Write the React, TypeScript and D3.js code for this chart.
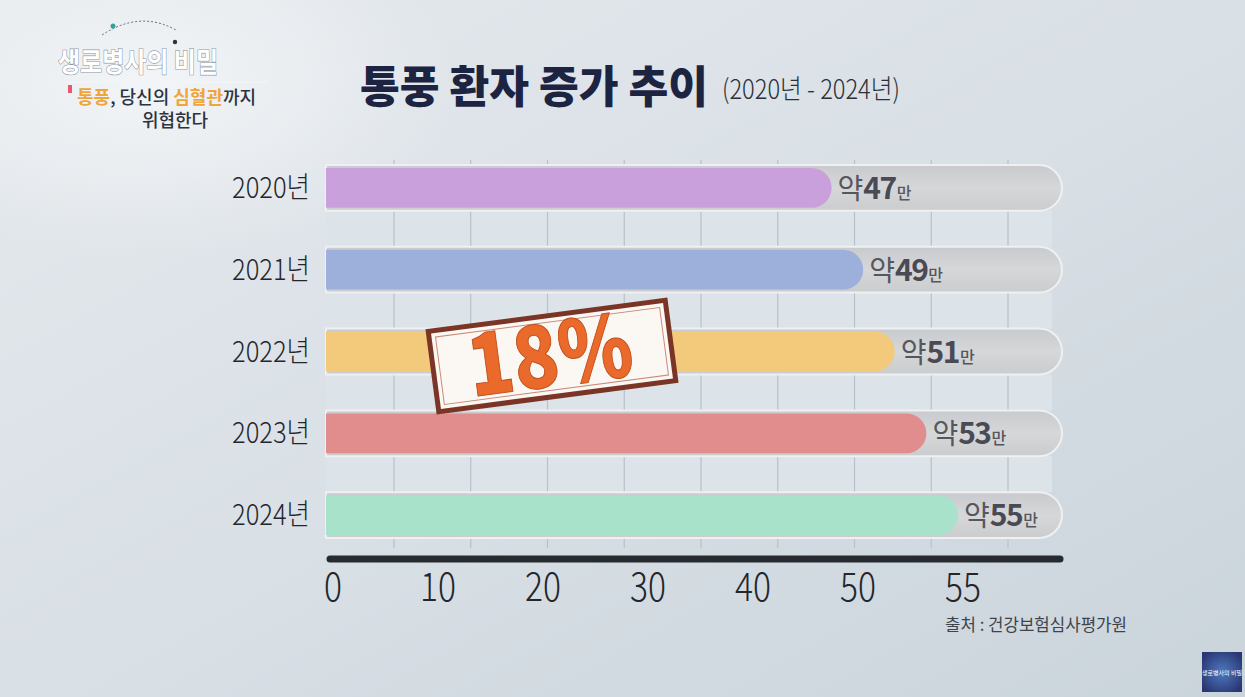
import React from "react";
import * as d3 from "d3";

const years = ["2020년", "2021년", "2022년", "2023년", "2024년"];
const patients = [47, 49, 51, 53, 55];
const barColors = ["#caa0dc", "#9db0dc", "#f3c97c", "#e18d8e", "#a8e2ca"];
const axisLabels = ["0", "10", "20", "30", "40", "50", "55"];
const titleText = "통풍 환자 증가 추이";
const subtitleText = "(2020년 - 2024년)";
const sourceText = "출처 : 건강보험심사평가원";
const stampText = "18%";

const W = 1245;
const H = 697;
const KR = "'Noto Sans CJK KR', 'Noto Sans', sans-serif";
const THIN = "'Noto Sans CJK KR', 'Noto Sans', sans-serif";

export default function App() {
  const x0 = 326;
  const trackEnd = 1062;
  const xVal = d3.scaleLinear().domain([15, 55]).range([x0, 958]);
  const yBand = d3.scaleBand().domain(years).range([147, 556]).paddingInner(0.44).paddingOuter(0.22);
  const bh = yBand.bandwidth();
  const xAxis = d3.scalePoint().domain(axisLabels).range([333, 963]);
  const gridX = d3.range(9).map((i) => 394 + i * ((1008 - 394) / 8));

  return (
    <svg width={W} height={H} style={{ position: "absolute", left: 0, top: 0, display: "block" }}>
      <defs>
        <linearGradient id="bg" x1="0" y1="0" x2="1" y2="1">
          <stop offset="0" stopColor="#e5e9ed" />
          <stop offset="0.5" stopColor="#d9e0e6" />
          <stop offset="1" stopColor="#cad4db" />
        </linearGradient>
        <radialGradient id="glow" cx="0.12" cy="0.12" r="0.25">
          <stop offset="0" stopColor="#f4f6f8" stopOpacity="0.9" />
          <stop offset="1" stopColor="#f4f6f8" stopOpacity="0" />
        </radialGradient>
        <linearGradient id="track" x1="0" y1="0" x2="0" y2="1">
          <stop offset="0" stopColor="#c9cacd" />
          <stop offset="0.5" stopColor="#d6d7d9" />
          <stop offset="1" stopColor="#cbccce" />
        </linearGradient>
        <radialGradient id="logoBg" cx="0.5" cy="0.5" r="0.6">
          <stop offset="0" stopColor="#4f79c0" />
          <stop offset="1" stopColor="#2a3773" />
        </radialGradient>
      </defs>
      <rect width={W} height={H} fill="url(#bg)" />
      <rect width={W} height={H} fill="url(#glow)" />

      {/* top-left programme logo */}
      <g>
        <path d="M102,35 Q140,10 176,30" fill="none" stroke="#5a6a80" strokeWidth={1} strokeDasharray="2 2" />
        <circle cx={113} cy={26} r={2.5} fill="#2fa59a" />
        <circle cx={175} cy={42} r={2.2} fill="#333" />
        <text x={58} y={72} fontFamily={KR} fontSize={27} fontWeight={700} fill="#ffffff" stroke="#8d97a6" strokeWidth={1.2} paintOrder="stroke" textLength={160} lengthAdjust="spacingAndGlyphs">
          생로병사의 비밀
        </text>
        <path d="M70,82 L268,82" stroke="#f4f6f8" strokeWidth={1.2} />
        <rect x={68} y={85} width={4} height={8} fill="#e85a6a" />
        <text x={77} y={104} fontFamily={KR} fontSize={18} fontWeight={700} fill="#2d3340">
          <tspan fill="#f0a53a">통풍</tspan>
          <tspan fontWeight={500}>, 당신의 </tspan>
          <tspan fill="#f0a53a">심혈관</tspan>
          <tspan fontWeight={500}>까지</tspan>
        </text>
        <text x={175} y={127} textAnchor="middle" fontFamily={KR} fontSize={18} fontWeight={500} fill="#2d3340">
          위협한다
        </text>
      </g>

      {/* title */}
      <text x={360} y={103} fontFamily={KR} fontSize={44} fontWeight={900} fill="#1d2442" textLength={348} lengthAdjust="spacingAndGlyphs">
        {titleText}
      </text>
      <text x={722} y={99} fontFamily={THIN} fontSize={27} fontWeight={300} fill="#2a2f38" textLength={178} lengthAdjust="spacingAndGlyphs">
        {subtitleText}
      </text>

      {/* gaps / grid */}
      {years.slice(0, -1).map((y, i) => {
        const top = (yBand(y) as number) + bh;
        const bot = yBand(years[i + 1]) as number;
        return <rect key={"gap" + y} x={x0} y={top} width={trackEnd - x0 - 10} height={bot - top} fill="#dde4e9" />;
      })}
      {gridX.map((gx) => (
        <line key={"g" + gx} x1={gx} x2={gx} y1={160} y2={548} stroke="#b8c1c9" strokeWidth={1.2} />
      ))}

      {/* bars */}
      {years.map((yr, i) => {
        const y = yBand(yr) as number;
        const xe = xVal(patients[i]);
        const r = bh / 2;
        const inset = 3;
        const ib = bh - inset * 2;
        return (
          <g key={yr}>
            <path
              d={`M${x0},${y} H${trackEnd - r} A${r},${r} 0 0 1 ${trackEnd - r},${y + bh} H${x0} Z`}
              fill="url(#track)"
              stroke="#eef0f2"
              strokeWidth={2}
            />
            <path
              d={`M${x0},${y + inset} H${xe - ib / 2} A${ib / 2},${ib / 2} 0 0 1 ${xe - ib / 2},${y + inset + ib} H${x0} Z`}
              fill={barColors[i]}
            />
            <text x={310} y={y + bh / 2 + 10} textAnchor="end" fontFamily={THIN} fontSize={29} fontWeight={300} fill="#23262c" textLength={78} lengthAdjust="spacingAndGlyphs">
              {yr}
            </text>
            <text x={xe + 6} y={y + bh / 2 + 11} fontFamily={KR} fill="#55575e">
              <tspan fontSize={28} fontWeight={400}>약</tspan>
              <tspan fontSize={30} fontWeight={700} fill="#4a4a54" letterSpacing={-1.5}>{patients[i]}</tspan>
              <tspan fontSize={16} fontWeight={500} dx={1}>만</tspan>
            </text>
          </g>
        );
      })}

      {/* axis */}
      <line x1={x0 + 4} x2={trackEnd - 2} y1={559} y2={559} stroke="#272b30" strokeWidth={7} strokeLinecap="round" />
      {axisLabels.map((t) => (
        <text key={t} x={xAxis(t)} y={601} textAnchor="middle" fontFamily={THIN} fontSize={40} fontWeight={300} fill="#23262c" textLength={t.length * 18} lengthAdjust="spacingAndGlyphs">
          {t}
        </text>
      ))}
      <text x={1127} y={631} textAnchor="end" fontFamily={KR} fontSize={17} fill="#3f434a" textLength={182} lengthAdjust="spacingAndGlyphs">
        {sourceText}
      </text>

      {/* 18% stamp */}
      <g transform="translate(552,356) rotate(-7.5)">
        <rect x={-122} y={-43} width={244} height={86} fill="#7b3526" />
        <rect x={-117} y={-38} width={234} height={76} fill="#fbf7f3" />
        <rect x={-113} y={-34} width={226} height={68} fill="none" stroke="#c98a76" strokeWidth={1} />
        <text x={-2} y={30} textAnchor="middle" fontFamily={KR} fontSize={86} fontWeight={900} fill="#ea6a2c" stroke="#c24e1c" strokeWidth={1} textLength={165} lengthAdjust="spacingAndGlyphs">
          {stampText}
        </text>
      </g>

      {/* bottom-right logo */}
      <rect x={1202} y={652} width={40} height={40} fill="url(#logoBg)" />
      <text x={1222} y={675} textAnchor="middle" fontFamily={KR} fontSize={6} fill="#ffffff">
        생로병사의 비밀
      </text>
    </svg>
  );
}
